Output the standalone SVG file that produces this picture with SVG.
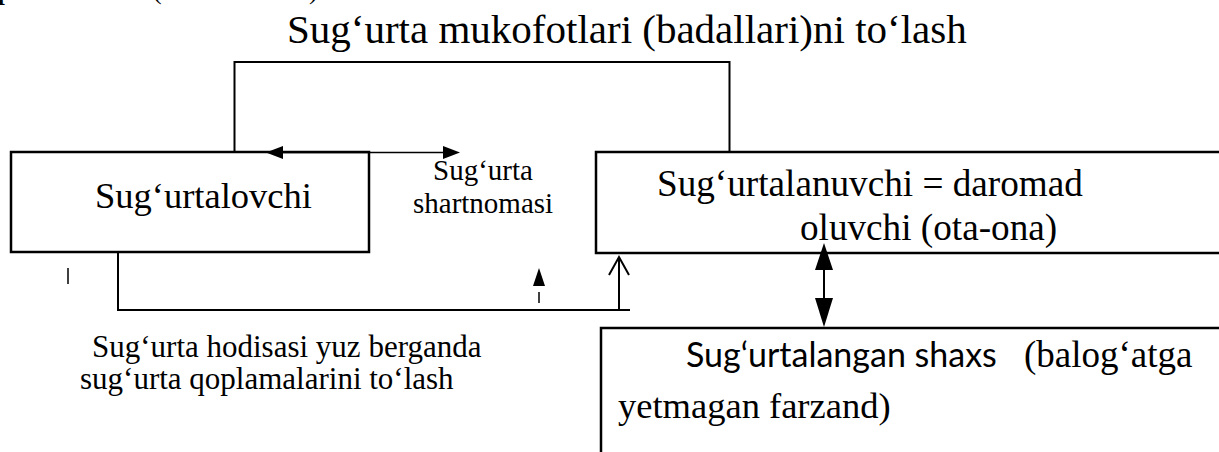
<svg xmlns="http://www.w3.org/2000/svg" width="1219" height="452" viewBox="0 0 1219 452">
  <style>
    .box { fill: #fff; stroke: #000; stroke-width: 2.5; }
    .open { fill: none; stroke: #000; stroke-width: 2.5; }
    .edge { fill: none; stroke: #000; stroke-width: 2; }
    .thin { fill: none; stroke: #000; stroke-width: 1.5; }
    .head { fill: #000; stroke: none; }
  </style>

  <g font-family="'Liberation Serif', 'Times New Roman', Tinos, serif" fill="#000">
    <!-- clipped line above the title -->
    <g id="heading-fragment">
      <text x="-3" y="-1" font-size="28" font-weight="bold">p</text>
      <text x="153" y="-1" font-size="26">(</text>
      <text x="309" y="-1" font-size="26">)</text>
    </g>

    <!-- title -->
    <g id="title">
      <text x="287" y="43" font-size="41">Sug‘urta mukofotlari (badallari)ni to‘lash</text>
    </g>

    <g id="insurer">
      <rect class="box" x="11" y="152" width="358" height="100"/>
      <text x="95" y="208" font-size="36.5">Sug‘urtalovchi</text>
    </g>

    <g id="contract-label">
      <text x="433" y="180" font-size="29">Sug‘urta</text>
      <text x="413" y="213" font-size="29">shartnomasi</text>
    </g>

    <g id="policyholder">
      <rect class="box" x="596" y="152" width="640" height="101"/>
      <text x="657" y="196" font-size="37.2">Sug‘urtalanuvchi = daromad</text>
      <text x="800" y="240" font-size="37.2">oluvchi (ota-ona)</text>
    </g>

    <g id="payout-label">
      <text x="92" y="357" font-size="31">Sug‘urta hodisasi yuz berganda</text>
      <text x="80" y="389" font-size="31">sug‘urta qoplamalarini to‘lash</text>
    </g>

    <g id="insured-person">
      <polyline class="open" points="601,470 601,328 1240,328"/>
      <text x="686" y="367" font-size="34" font-family="Lato, 'Liberation Sans', sans-serif">Sug‘urtalangan shaxs</text>
      <text x="1024" y="367" font-size="37">(balog‘atga</text>
      <text x="618" y="418" font-size="36.5">yetmagan farzand)</text>
    </g>
  </g>

  <!-- connectors -->
  <g id="connectors">
    <!-- premium bracket over both upper boxes -->
    <polyline class="edge" points="234.5,152 234.5,62 729.5,62 729.5,152"/>
    <!-- contract double arrow -->
    <line class="thin" x1="275" y1="152.5" x2="450" y2="152.5"/>
    <polygon class="head" points="266,152.5 283,146 283,159"/>
    <polygon class="head" points="460,152.5 443,146 443,159"/>
    <!-- payout line from insurer to policyholder -->
    <polyline class="edge" points="118,252 118,310 630,310"/>
    <line class="edge" x1="619" y1="310" x2="619" y2="259"/>
    <polyline class="edge" points="609,275 619,257 629,275"/>
    <!-- policyholder / insured person double arrow -->
    <line class="edge" x1="824" y1="262" x2="824" y2="310"/>
    <polygon class="head" points="824,243 815,270 833,270"/>
    <polygon class="head" points="824,327 815,298 833,298"/>
    <!-- stray marks -->
    <line class="thin" x1="68" y1="268" x2="68" y2="284"/>
    <polygon class="head" points="539,268 533,286 545,286"/>
    <line class="thin" x1="539" y1="292" x2="539" y2="303"/>
  </g>
</svg>
